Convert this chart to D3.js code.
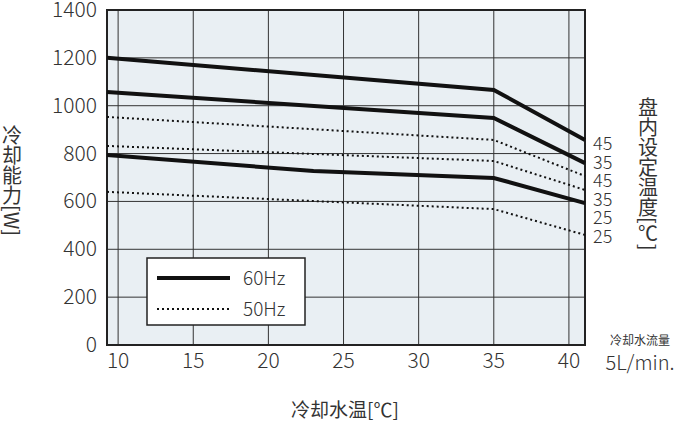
<!DOCTYPE html><html><head><meta charset="utf-8"><script src="https://cdn.jsdelivr.net/npm/d3@7"></script>
<style>body{margin:0;background:#fff}text{font-family:"Noto Sans CJK SC","Noto Sans",sans-serif;fill:#333}</style></head><body><svg id="c" width="700" height="424"></svg><script>
const xTicks=[10,15,20,25,30,35,40];
const yTicks=[0,200,400,600,800,1000,1200,1400];
const xs=[9.26,35,41.07];
const s60_45=[1200,1066,857], s60_35=[1057,949,760];
const s60_25x=[9.26,23,35,41.07], s60_25=[794,727,698,593];
const s50_45=[953,857,706], s50_35=[832,769,648], s50_25=[640,568,460];
const rightLabels=["45","35","45","35","25","25"];
const svg=d3.select("#c");
const x=d3.scaleLinear().domain([9.26,41.07]).range([107,585]);
const y=d3.scaleLinear().domain([0,1400]).range([345,10]);
svg.append("rect").attr("x",107).attr("y",10).attr("width",478).attr("height",335).attr("fill","#e9eff3");
svg.append("g").selectAll("line").data(yTicks).join("line").attr("x1",107).attr("x2",585).attr("y1",d=>y(d)).attr("y2",d=>y(d)).attr("stroke","#333").attr("stroke-width",1);
svg.append("g").selectAll("line").data(xTicks).join("line").attr("y1",10).attr("y2",345).attr("x1",d=>x(d)).attr("x2",d=>x(d)).attr("stroke","#333").attr("stroke-width",1);
svg.append("rect").attr("x",107).attr("y",10).attr("width",478).attr("height",335).attr("fill","none").attr("stroke","#222").attr("stroke-width",2);
svg.append("g").selectAll("text").data(yTicks).join("text").attr("x",97).attr("y",d=>y(d)+7).attr("text-anchor","end").attr("font-size",21).attr("font-weight",300).text(d=>d);
svg.append("g").selectAll("text").data(xTicks).join("text").attr("x",d=>x(d)).attr("y",368).attr("text-anchor","middle").attr("font-size",21).attr("font-weight",300).text(d=>d);
const line=d3.line().x(d=>x(d[0])).y(d=>y(d[1]));
function draw(xv,yv,dash){svg.append("path").attr("d",line(xv.map((v,i)=>[v,yv[i]]))).attr("fill","none").attr("stroke","#111").attr("stroke-width",dash?2:4).attr("stroke-dasharray",dash?"2,3":null);}
draw(xs,s60_45,false);draw(xs,s60_35,false);draw(s60_25x,s60_25,false);
draw(xs,s50_45,true);draw(xs,s50_35,true);draw(xs,s50_25,true);
svg.append("g").selectAll("text").data(rightLabels).join("text").attr("x",593).attr("y",(d,i)=>150+i*18.5).attr("font-size",18).attr("font-weight",300).text(d=>d);
svg.append("rect").attr("x",147).attr("y",258).attr("width",158).attr("height",67).attr("fill","#fff").attr("stroke","#222").attr("stroke-width",1.5);
svg.append("line").attr("x1",157).attr("x2",230).attr("y1",278).attr("y2",278).attr("stroke","#111").attr("stroke-width",4);
svg.append("line").attr("x1",157).attr("x2",230).attr("y1",309).attr("y2",309).attr("stroke","#111").attr("stroke-width",2).attr("stroke-dasharray","2,3");
svg.append("text").attr("x",243).attr("y",285).attr("font-size",19).attr("font-weight",300).text("60Hz");
svg.append("text").attr("x",243).attr("y",316).attr("font-size",19).attr("font-weight",300).text("50Hz");
svg.append("text").attr("x",12).attr("y",125).attr("font-size",20).style("writing-mode","vertical-rl").text("冷却能力[W]");
svg.append("text").attr("x",648).attr("y",97).attr("font-size",20).style("writing-mode","vertical-rl").text("盘内设定温度[℃]");
svg.append("text").attr("x",345).attr("y",417).attr("text-anchor","middle").attr("font-size",19).text("冷却水温[℃]");
svg.append("text").attr("x",640).attr("y",345).attr("text-anchor","middle").attr("font-size",12).text("冷却水流量");
svg.append("text").attr("x",640).attr("y",370).attr("text-anchor","middle").attr("font-size",20).attr("font-weight",300).text("5L/min.");
</script></body></html>
